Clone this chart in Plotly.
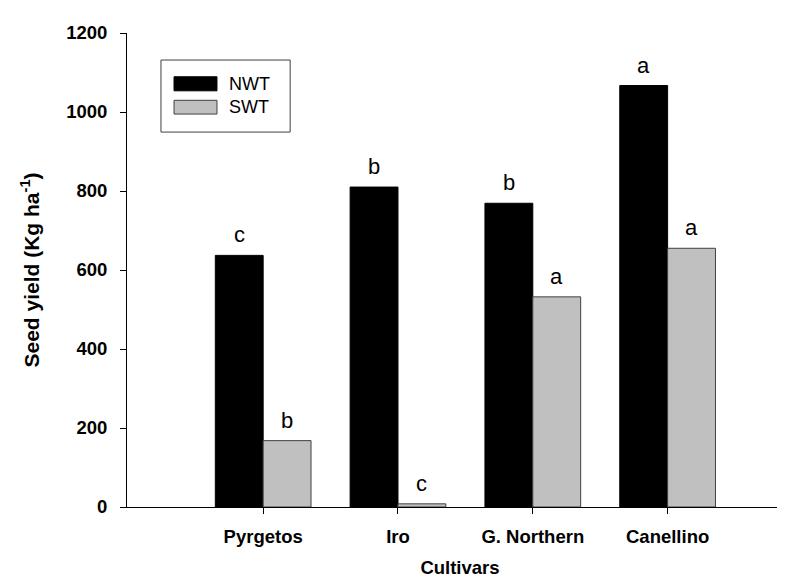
import plotly.graph_objects as go

cultivars = ["Pyrgetos", "Iro", "G. Northern", "Canellino"]
positions = [1, 2, 3, 4]
series_names = ["NWT", "SWT"]
nwt_values = [637, 810, 769, 1067]
swt_values = [168, 8, 532, 655]
nwt_letters = ["c", "b", "b", "a"]
swt_letters = ["b", "c", "a", "a"]
y_ticks = [0, 200, 400, 600, 800, 1000, 1200]

FONT = "Arial, Liberation Sans, sans-serif"
NWT_COLOR = "#000000"
SWT_COLOR = "#c0c0c0"
EDGE = "#404040"

fig = go.Figure()
fig.add_trace(go.Bar(
    x=positions, y=nwt_values, name=series_names[0],
    marker=dict(color=NWT_COLOR, line=dict(color=NWT_COLOR, width=1)),
    offsetgroup="nwt", showlegend=False,
))
fig.add_trace(go.Bar(
    x=positions, y=swt_values, name=series_names[1],
    marker=dict(color=SWT_COLOR, line=dict(color=EDGE, width=1)),
    offsetgroup="swt", showlegend=False,
))

# significance letters above the bars
bar_w = 0.355
for xp, v, t in zip(positions, nwt_values, nwt_letters):
    fig.add_annotation(x=xp - bar_w / 2, y=v, text=t, showarrow=False,
                       yanchor="bottom", yshift=6,
                       font=dict(family=FONT, size=22, color="black"))
for xp, v, t in zip(positions, swt_values, swt_letters):
    fig.add_annotation(x=xp + bar_w / 2, y=v, text=t, showarrow=False,
                       yanchor="bottom", yshift=6,
                       font=dict(family=FONT, size=22, color="black"))

# legend box (drawn in paper coordinates)
fig.add_shape(type="rect", xref="paper", yref="paper",
              x0=0.051, x1=0.245, y0=0.791, y1=0.943,
              line=dict(color=EDGE, width=1), fillcolor="white", layer="above")
legend_rows = [(series_names[0], NWT_COLOR, NWT_COLOR, 0.878, 0.9077),
               (series_names[1], SWT_COLOR, EDGE, 0.829, 0.858)]
for name, fill, edge, y0, y1 in legend_rows:
    fig.add_shape(type="rect", xref="paper", yref="paper",
                  x0=0.0706, x1=0.1351, y0=y0, y1=y1,
                  line=dict(color=edge, width=1), fillcolor=fill, layer="above")
    fig.add_annotation(xref="paper", yref="paper", x=0.150, y=(y0 + y1) / 2,
                       text=name, showarrow=False, xanchor="left", yanchor="middle",
                       font=dict(family=FONT, size=18, color="black"))

fig.update_layout(
    width=785, height=579,
    margin=dict(l=119, r=0, t=25, b=80, pad=0),
    plot_bgcolor="white", paper_bgcolor="white",
    barmode="group", bargap=0.29, bargroupgap=0,
    font=dict(family=FONT, color="black"),
    showlegend=False,
    xaxis=dict(
        range=[-0.01, 4.93],
        tickmode="array", tickvals=positions, ticktext=cultivars,
        ticks="outside", ticklen=6, tickcolor="black", tickwidth=1,
        showline=True, linecolor="black", linewidth=1,
        showgrid=False, zeroline=False,
        tickfont=dict(family=FONT, size=18.5, color="black", weight="bold"),
        ticklabelstandoff=7,
        title=dict(text="<b>Cultivars</b>", font=dict(family=FONT, size=18.5, color="black"), standoff=14),
    ),
    yaxis=dict(
        range=[0, 1200],
        tickmode="array", tickvals=y_ticks,
        ticks="outside", ticklen=6, tickcolor="black", tickwidth=1,
        showline=True, linecolor="black", linewidth=1,
        showgrid=False, zeroline=False,
        tickfont=dict(family=FONT, size=18.5, color="black", weight="bold"),
        ticklabelstandoff=9,
        title=dict(text="<b>Seed yield (Kg ha<sup>-1</sup>)</b>", font=dict(family=FONT, size=21, color="black"), standoff=20),
    ),
)

fig.write_html("out.html")
